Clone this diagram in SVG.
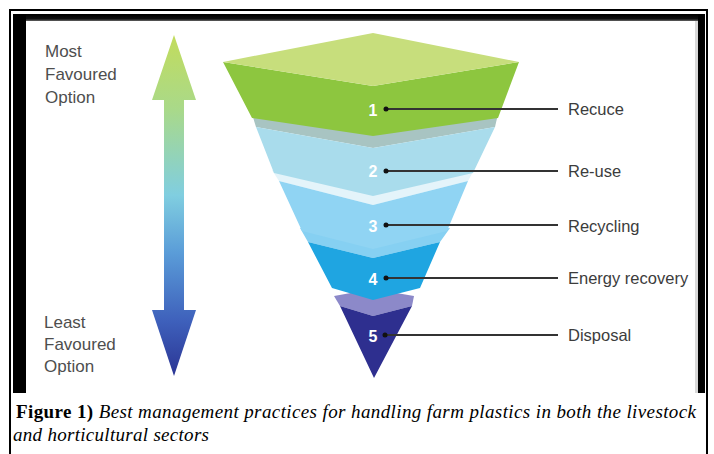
<svg xmlns="http://www.w3.org/2000/svg" width="714" height="454" viewBox="0 0 714 454">
  <defs>
    <linearGradient id="arrowGrad" gradientUnits="userSpaceOnUse" x1="0" y1="35" x2="0" y2="376">
      <stop offset="0" stop-color="#c2dc5c"/>
      <stop offset="0.22" stop-color="#a9d98a"/>
      <stop offset="0.47" stop-color="#80cee0"/>
      <stop offset="0.64" stop-color="#5a9cd8"/>
      <stop offset="0.84" stop-color="#3e60bb"/>
      <stop offset="1" stop-color="#2b3594"/>
    </linearGradient>
    <linearGradient id="topEdge" x1="0" y1="0" x2="0" y2="1">
      <stop offset="0" stop-color="#000"/>
      <stop offset="0.6" stop-color="#111"/>
      <stop offset="1" stop-color="#888"/>
    </linearGradient>
    <style>
      .side { font-family: "Liberation Sans", Arial, sans-serif; font-size: 17px; fill: #4e4e4e; }
      .label { font-family: "Liberation Sans", Arial, sans-serif; font-size: 16.5px; fill: #3c3c3c; }
      .num { font-family: "Liberation Sans", Arial, sans-serif; font-size: 16px; font-weight: bold; fill: #ffffff; text-anchor: middle; }
      .leader { stroke: #333333; stroke-width: 2; fill: none; }
      .dot { fill: #111111; }
      .cap { font-family: "Liberation Serif", "Times New Roman", serif; font-size: 19px; fill: #000000; }
    </style>
  </defs>

  <!-- page background and outer rule -->
  <rect x="0" y="0" width="714" height="454" fill="#ffffff"/>
  <path d="M10 454 V10 H707 V454" fill="none" stroke="#000" stroke-width="2"/>

  <!-- figure panel with heavy black edge -->
  <rect x="13" y="14" width="692" height="379" fill="#000"/>
  <rect x="26" y="14" width="672" height="8" fill="url(#topEdge)"/>
  <rect x="26" y="21" width="672" height="372" fill="#ffffff"/>
  <rect x="695" y="21" width="3" height="372" fill="#d8d8d8"/>

  <!-- preference arrow -->
  <g id="preference-arrow">
    <polygon fill="url(#arrowGrad)" points="174,35 196,100 184,100 184,310 196,310 174,376 152,310 164,310 164,100 152,100"/>
  </g>

  <g id="most-favoured">
    <text class="side" x="45" y="57">Most</text>
    <text class="side" x="45" y="80">Favoured</text>
    <text class="side" x="45" y="103">Option</text>
  </g>
  <g id="least-favoured">
    <text class="side" x="44" y="328">Least</text>
    <text class="side" x="44" y="350">Favoured</text>
    <text class="side" x="44" y="372">Option</text>
  </g>

  <!-- inverted pyramid, drawn from the tip upwards so upper tiers overlap -->
  <g id="tier-5">
    <polygon fill="#8c89c9" points="334,296 373,289 414,296 412,306 373,316 340,306"/>
    <polygon fill="#2e2f8f" points="340,306 373,316 412,306 374,378"/>
    <text class="num" x="373" y="342">5</text>
  </g>
  <g id="tier-4">
    <polygon fill="#86d0f2" points="300,228 373,236 450,228 440,242 373,258 308,242"/>
    <polygon fill="#1fa5e1" points="308,242 373,258 440,242 420,288 373,300 332,288"/>
    <text class="num" x="373" y="285">4</text>
  </g>
  <g id="tier-3">
    <polygon fill="#e4f4fa" points="272,170 373,190 474,170 468,181 373,205 279,181"/>
    <polygon fill="#90d4f3" points="279,181 373,205 468,181 447,231 373,249 302,231"/>
    <text class="num" x="373" y="232">3</text>
  </g>
  <g id="tier-2">
    <polygon fill="#a8c4c2" points="252,114 373,100 498,114 495,127 373,148 256,127"/>
    <polygon fill="#a9dcec" points="256,127 373,148 495,127 473,173 373,196 274,173"/>
    <text class="num" x="373" y="177">2</text>
  </g>
  <g id="tier-1">
    <polygon fill="#8dc63f" points="223,62 373,86 519,62 498,118 373,136 252,118"/>
    <polygon fill="#c7de7c" points="223,62 373,33 519,62 373,86"/>
    <text class="num" x="373" y="116">1</text>
  </g>

  <!-- leader lines from each tier to its label -->
  <g id="connectors">
    <line class="leader" x1="386" y1="109" x2="558" y2="109"/>
    <line class="leader" x1="386" y1="171" x2="558" y2="171"/>
    <line class="leader" x1="386" y1="225" x2="558" y2="225"/>
    <line class="leader" x1="386" y1="278" x2="558" y2="278"/>
    <line class="leader" x1="385" y1="335" x2="558" y2="335"/>
    <circle class="dot" cx="386" cy="109" r="2.5"/>
    <circle class="dot" cx="386" cy="171" r="2.5"/>
    <circle class="dot" cx="386" cy="225" r="2.5"/>
    <circle class="dot" cx="386" cy="278" r="2.5"/>
    <circle class="dot" cx="385" cy="335" r="2.5"/>
  </g>

  <g id="labels">
    <text id="label-1" class="label" x="568" y="115">Recuce</text>
    <text id="label-2" class="label" x="568" y="177">Re-use</text>
    <text id="label-3" class="label" x="568" y="232">Recycling</text>
    <text id="label-4" class="label" x="568" y="284">Energy recovery</text>
    <text id="label-5" class="label" x="568" y="341">Disposal</text>
  </g>

  <!-- caption -->
  <g id="caption">
    <text class="cap" x="16" y="418" textLength="680" lengthAdjust="spacing"><tspan font-weight="bold">Figure 1)</tspan><tspan font-style="italic"> Best management practices for handling farm plastics in both the livestock</tspan></text>
    <text class="cap" x="13" y="441" font-style="italic" textLength="196" lengthAdjust="spacing">and horticultural sectors</text>
  </g>
</svg>
